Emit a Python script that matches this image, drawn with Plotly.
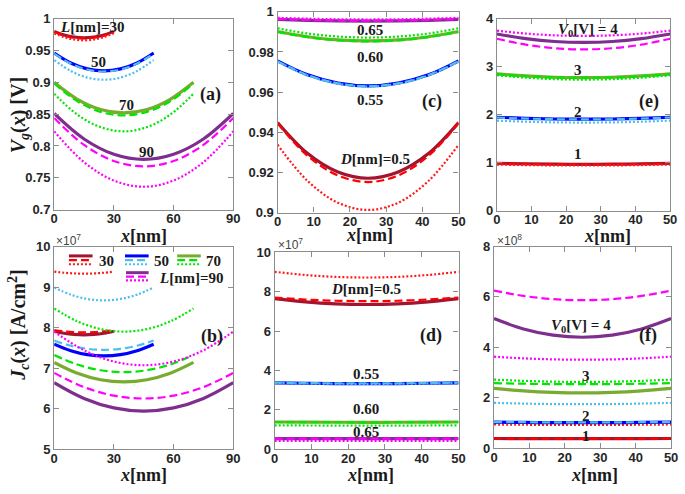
import plotly.graph_objects as go

W, H = 685, 494
def px(x): return x / W
def py(y): return 1 - y / H

# ---------------- data ----------------
# Panel (a): Vg(x) [V] vs x for different L; each entry = [solid, dashed, dotted]
a_x30 = [0, 5, 10, 15, 20, 25, 30]
a_x50 = [0, 8.33, 16.67, 25, 33.33, 41.67, 50]
a_x70 = [0, 11.67, 23.33, 35, 46.67, 58.33, 70]
a_x90 = [0, 15, 30, 45, 60, 75, 90]
a_L30 = [[0.980, 0.9744, 0.9711, 0.970, 0.9711, 0.9744, 0.980],
         [0.979, 0.9734, 0.9701, 0.969, 0.9701, 0.9734, 0.979],
         [0.977, 0.9709, 0.9672, 0.966, 0.9672, 0.9709, 0.977]]
a_L50 = [[0.946, 0.9304, 0.9211, 0.918, 0.9211, 0.9304, 0.946],
         [0.945, 0.9294, 0.9201, 0.917, 0.9201, 0.9294, 0.945],
         [0.935, 0.9178, 0.9074, 0.904, 0.9074, 0.9178, 0.935]]
a_L70 = [[0.900, 0.8733, 0.8573, 0.852, 0.8573, 0.8733, 0.900],
         [0.898, 0.8702, 0.8536, 0.848, 0.8536, 0.8702, 0.898],
         [0.882, 0.8492, 0.8296, 0.823, 0.8296, 0.8492, 0.882]]
a_L90 = [[0.851, 0.811, 0.787, 0.779, 0.787, 0.811, 0.851],
         [0.844, 0.8017, 0.7764, 0.768, 0.7764, 0.8017, 0.844],
         [0.823, 0.7746, 0.7457, 0.736, 0.7457, 0.7746, 0.823]]

# common x for panels (c)-(f)
x50 = [0, 8.33, 16.67, 25, 33.33, 41.67, 50]

# Panel (c): Vg(x) for different D
c_D050 = [[0.9449, 0.9294, 0.9202, 0.9171, 0.9202, 0.9294, 0.9449],
          [0.9445, 0.9282, 0.9185, 0.9152, 0.9185, 0.9282, 0.9445],
          [0.9338, 0.9157, 0.9049, 0.9013, 0.9049, 0.9157, 0.9338]]
c_D055 = [[0.9756, 0.9686, 0.9645, 0.9631, 0.9645, 0.9686, 0.9756],
          [0.9754, 0.9685, 0.9644, 0.9630, 0.9644, 0.9685, 0.9754],
          [0.9752, 0.9683, 0.9642, 0.9628, 0.9642, 0.9683, 0.9752]]
c_D060 = [[0.9902, 0.9876, 0.9860, 0.9855, 0.9860, 0.9876, 0.9902],
          [0.9900, 0.9874, 0.9858, 0.9853, 0.9858, 0.9874, 0.9900],
          [0.9918, 0.9892, 0.9877, 0.9872, 0.9877, 0.9892, 0.9918]]
c_D065 = [[0.9963, 0.9958, 0.9955, 0.9954, 0.9955, 0.9958, 0.9963],
          [0.9965, 0.9960, 0.9957, 0.9956, 0.9957, 0.9960, 0.9965],
          [0.9970, 0.9966, 0.9963, 0.9962, 0.9963, 0.9966, 0.9970]]

# Panel (e): Vg(x) for different V0
e_V1 = [[0.985, 0.974, 0.967, 0.965, 0.967, 0.974, 0.985],
        [0.985, 0.973, 0.965, 0.963, 0.965, 0.973, 0.985],
        [0.960, 0.949, 0.942, 0.940, 0.942, 0.949, 0.960]]
e_V2 = [[1.945, 1.923, 1.909, 1.905, 1.909, 1.923, 1.945],
        [1.940, 1.918, 1.904, 1.900, 1.904, 1.918, 1.940],
        [1.875, 1.853, 1.839, 1.835, 1.839, 1.853, 1.875]]
e_V3 = [[2.850, 2.806, 2.779, 2.770, 2.779, 2.806, 2.850],
        [2.845, 2.800, 2.774, 2.765, 2.774, 2.800, 2.845],
        [2.820, 2.770, 2.740, 2.730, 2.740, 2.770, 2.820]]
e_V4 = [[3.680, 3.583, 3.524, 3.505, 3.524, 3.583, 3.680],
        [3.580, 3.458, 3.384, 3.360, 3.384, 3.458, 3.580],
        [3.750, 3.689, 3.652, 3.640, 3.652, 3.689, 3.750]]

# Panel (b): Jc(x) [x1e7 A/cm^2] for different L
b_L30 = [[7.91, 7.86, 7.83, 7.82, 7.83, 7.86, 7.91],
         [7.94, 7.907, 7.887, 7.88, 7.887, 7.907, 7.94],
         [9.38, 9.352, 9.336, 9.33, 9.336, 9.352, 9.38]]
b_L50 = [[7.59, 7.429, 7.332, 7.30, 7.332, 7.429, 7.59],
         [7.68, 7.552, 7.476, 7.45, 7.476, 7.552, 7.68],
         [8.99, 8.812, 8.706, 8.67, 8.706, 8.812, 8.99]]
b_L70 = [[7.14, 6.873, 6.713, 6.66, 6.713, 6.873, 7.14],
         [7.32, 7.087, 6.947, 6.90, 6.947, 7.087, 7.32],
         [8.47, 8.153, 7.963, 7.90, 7.963, 8.153, 8.47]]
b_L90 = [[6.64, 6.251, 6.018, 5.94, 6.018, 6.251, 6.64],
         [6.88, 6.530, 6.320, 6.25, 6.320, 6.530, 6.88],
         [7.90, 7.439, 7.162, 7.07, 7.162, 7.439, 7.90]]

# Panel (d): Jc(x) [x1e7] for different D
d_D050 = [[7.65, 7.483, 7.383, 7.35, 7.383, 7.483, 7.65],
          [7.70, 7.60, 7.54, 7.52, 7.54, 7.60, 7.70],
          [9.01, 8.849, 8.752, 8.72, 8.752, 8.849, 9.01]]
d_D055 = [[3.37, 3.348, 3.334, 3.33, 3.334, 3.348, 3.37],
          [3.38, 3.358, 3.344, 3.34, 3.344, 3.358, 3.38],
          [3.36, 3.338, 3.324, 3.32, 3.324, 3.338, 3.36]]
d_D060 = [[1.38, 1.372, 1.367, 1.365, 1.367, 1.372, 1.38],
          [1.38, 1.372, 1.367, 1.365, 1.367, 1.372, 1.38],
          [1.21, 1.203, 1.199, 1.198, 1.199, 1.203, 1.21]]
d_D065 = [[0.54, 0.537, 0.535, 0.535, 0.535, 0.537, 0.54],
          [0.54, 0.537, 0.535, 0.535, 0.535, 0.537, 0.54],
          [0.42, 0.418, 0.416, 0.416, 0.416, 0.418, 0.42]]

# Panel (f): Jc(x) [x1e8] for different V0
f_V1 = [[0.385, 0.380, 0.378, 0.377, 0.378, 0.380, 0.385],
        [0.385, 0.380, 0.378, 0.377, 0.378, 0.380, 0.385],
        [0.940, 0.930, 0.925, 0.923, 0.925, 0.930, 0.940]]
f_V2 = [[1.030, 1.020, 1.015, 1.013, 1.015, 1.020, 1.030],
        [1.040, 1.030, 1.025, 1.023, 1.025, 1.030, 1.040],
        [1.800, 1.770, 1.750, 1.745, 1.750, 1.770, 1.800]]
f_V3 = [[2.37, 2.27, 2.21, 2.19, 2.21, 2.27, 2.37],
        [2.58, 2.558, 2.544, 2.54, 2.544, 2.558, 2.58],
        [2.72, 2.67, 2.64, 2.63, 2.64, 2.67, 2.72]]
f_V4 = [[5.14, 4.729, 4.482, 4.40, 4.482, 4.729, 5.14],
        [6.25, 6.039, 5.912, 5.87, 5.912, 6.039, 6.25],
        [3.63, 3.563, 3.523, 3.51, 3.523, 3.563, 3.63]]

x_ticks_50 = [0, 10, 20, 30, 40, 50]
x_ticks_90 = [0, 30, 60, 90]

# ---------------- styling ----------------
COL = {
    'red':    ('#a2142f', '#ff0000', '#ff1a1a'),
    'blue':   ('#0000ff', '#4dbeee', '#4dbeee'),
    'green':  ('#77ac30', '#00e600', '#00e600'),
    'purple': ('#7e2f8e', '#ff00ff', '#ff00ff'),
}
STY = [dict(width=3.2, dash='solid'),
       dict(width=2.2, dash='8px,4px'),
       dict(width=2.2, dash='2px,2px')]

fig = go.Figure()

def add_group(xv, ys, color, ax):
    for i in range(3):
        fig.add_trace(go.Scatter(
            x=xv, y=ys[i], mode='lines', line_shape='spline',
            line=dict(color=COL[color][i], width=STY[i]['width'], dash=STY[i]['dash']),
            xaxis='x' + ax, yaxis='y' + ax, showlegend=False, hoverinfo='skip'))

# (a) -> axis '', (c) -> 2, (e) -> 3, (b) -> 4, (d) -> 5, (f) -> 6
add_group(a_x30, a_L30, 'red', '')
add_group(a_x50, a_L50, 'blue', '')
add_group(a_x70, a_L70, 'green', '')
add_group(a_x90, a_L90, 'purple', '')

add_group(x50, c_D050, 'red', '2')
add_group(x50, c_D055, 'blue', '2')
add_group(x50, c_D060, 'green', '2')
add_group(x50, c_D065, 'purple', '2')

add_group(x50, e_V1, 'red', '3')
add_group(x50, e_V2, 'blue', '3')
add_group(x50, e_V3, 'green', '3')
add_group(x50, e_V4, 'purple', '3')

add_group(a_x30, b_L30, 'red', '4')
add_group(a_x50, b_L50, 'blue', '4')
add_group(a_x70, b_L70, 'green', '4')
add_group(a_x90, b_L90, 'purple', '4')

add_group(x50, d_D050, 'red', '5')
add_group(x50, d_D055, 'blue', '5')
add_group(x50, d_D060, 'green', '5')
add_group(x50, d_D065, 'purple', '5')

add_group(x50, f_V1, 'red', '6')
add_group(x50, f_V2, 'blue', '6')
add_group(x50, f_V3, 'green', '6')
add_group(x50, f_V4, 'purple', '6')

tickfont = dict(family='Liberation Sans', size=13, color='#262626', weight='bold')
base = dict(showline=True, linecolor='#8c8c8c', linewidth=1.2, mirror='ticks',
            ticks='inside', ticklen=5, tickcolor='#8c8c8c', tickwidth=1,
            showgrid=False, zeroline=False, tickfont=tickfont)

panels = {
    '':  (51, 233, 12, 209, [0, 90], x_ticks_90, [0.7, 1.0],
          [0.7, 0.75, 0.8, 0.85, 0.9, 0.95, 1], ['0.7', '0.75', '0.8', '0.85', '0.9', '0.95', '1']),
    '2': (278, 462, 5, 212, [0, 50], x_ticks_50, [0.9, 1.0],
          [0.9, 0.92, 0.94, 0.96, 0.98, 1], ['0.9', '0.92', '0.94', '0.96', '0.98', '1']),
    '3': (501, 677, 12, 210, [0, 50], x_ticks_50, [0, 4],
          [0, 1, 2, 3, 4], None),
    '4': (51, 233, 247, 456, [0, 90], x_ticks_90, [5, 10],
          [5, 6, 7, 8, 9, 10], None),
    '5': (275, 462, 253, 456, [0, 50], x_ticks_50, [0, 10],
          [0, 2, 4, 6, 8, 10], None),
    '6': (498, 678, 247, 455, [0, 50], x_ticks_50, [0, 8],
          [0, 2, 4, 6, 8], None),
}
lay = {}
for k, (x0, x1, yt, yb, xr, xt, yr, yt_vals, yt_text) in panels.items():
    xa = dict(base, domain=[px(x0), px(x1)], range=xr, tickvals=xt,
              anchor='y' + k, ticklabelstandoff=-3, ticklabeloverflow='allow')
    ya = dict(base, domain=[py(yb), py(yt)], range=yr, tickvals=yt_vals,
              anchor='x' + k, ticklabelstandoff=0)
    if yt_text:
        ya['ticktext'] = yt_text
    lay['xaxis' + k] = xa
    lay['yaxis' + k] = ya
fig.update_layout(**lay)

SERIF = 'Liberation Serif'
ann = []
def A(text, x, y, size=15, family=SERIF, color='#1a1a1a', angle=0, xanchor='center'):
    ann.append(dict(text=text, x=px(x), y=py(y), xref='paper', yref='paper',
                    showarrow=False, xanchor=xanchor, yanchor='middle',
                    textangle=angle, font=dict(family=family, size=size, color=color)))

# curve labels
A('<b><i>L</i>[nm]=30</b>', 90, 21)
A('<b>50</b>', 96, 57)
A('<b>70</b>', 125, 101)
A('<b>90</b>', 145, 150)
A('<b>0.65</b>', 372, 24)
A('<b>0.60</b>', 372, 52)
A('<b>0.55</b>', 372, 96)
A('<b><i>D</i>[nm]=0.5</b>', 377, 157)
A('<b><i>V</i><sub>0</sub>[V] = 4</b>', 594, 24)
A('<b>3</b>', 583, 65)
A('<b>2</b>', 583, 108)
A('<b>1</b>', 583, 152)
A('<b><i>D</i>[nm]=0.5</b>', 368, 291)
A('<b>0.55</b>', 368, 378)
A('<b>0.60</b>', 368, 415)
A('<b>0.65</b>', 368, 438)
A('<b><i>V</i><sub>0</sub>[V] = 4</b>', 586, 329)
A('<b>3</b>', 591, 381)
A('<b>2</b>', 591, 422)
A('<b>1</b>', 591, 442)

# panel labels
for t, x, y in [('(a)', 210, 90), ('(c)', 435, 97), ('(e)', 656, 97),
                ('(b)', 211, 340), ('(d)', 434, 339), ('(f)', 655, 339)]:
    A('<b>' + t + '</b>', x, y, size=18)

# axis titles
for x, y in [(142, 236), (371, 235), (613, 236), (142, 483), (372, 483), (600, 483)]:
    A('<b><i>x</i>[nm]</b>', x, y, size=18)
A('<b><i>V<sub>g</sub></i>(<i>x</i>) [V]</b>', 16, 112, size=20, angle=-90)
A('<b><i>J<sub>c</sub></i>(<i>x</i>) [A/cm<sup>2</sup>]</b>', 15, 328, size=20, angle=-90)

# exponent labels
A('×10<sup>7</sup>', 51, 240, size=12, family='Liberation Sans', color='#444444', xanchor='left')
A('×10<sup>7</sup>', 276, 244, size=12, family='Liberation Sans', color='#444444', xanchor='left')
A('×10<sup>8</sup>', 499, 240, size=12, family='Liberation Sans', color='#444444', xanchor='left')

# legend in panel (b): samples drawn as shapes
shapes = []
leg = [('red', 66, 90, [256.7, 261, 265.3], '30', 95),
       ('blue', 123, 147, [256.7, 261, 265.3], '50', 150),
       ('green', 176, 200, [256.7, 261, 265.3], '70', 203),
       ('purple', 124, 147, [274, 278, 282], '<i>L</i>[nm]=90', 155)]
for col, x0, x1, ys, lab, tx in leg:
    for i in range(3):
        shapes.append(dict(type='line', xref='paper', yref='paper',
                           x0=px(x0), x1=px(x1), y0=py(ys[i]), y1=py(ys[i]),
                           line=dict(color=COL[col][i], width=STY[i]['width'] if i else 3,
                                     dash=STY[i]['dash'])))
    A('<b>' + lab + '</b>', tx, ys[1] + 1, size=15, xanchor='left')

fig.update_layout(width=W, height=H, margin=dict(l=0, r=0, t=0, b=0),
                  paper_bgcolor='white', plot_bgcolor='white',
                  annotations=ann, shapes=shapes, showlegend=False)

fig.write_html('out.html', config={'displayModeBar': False},
               post_script="document.body.style.margin='0';document.body.style.padding='0';")
